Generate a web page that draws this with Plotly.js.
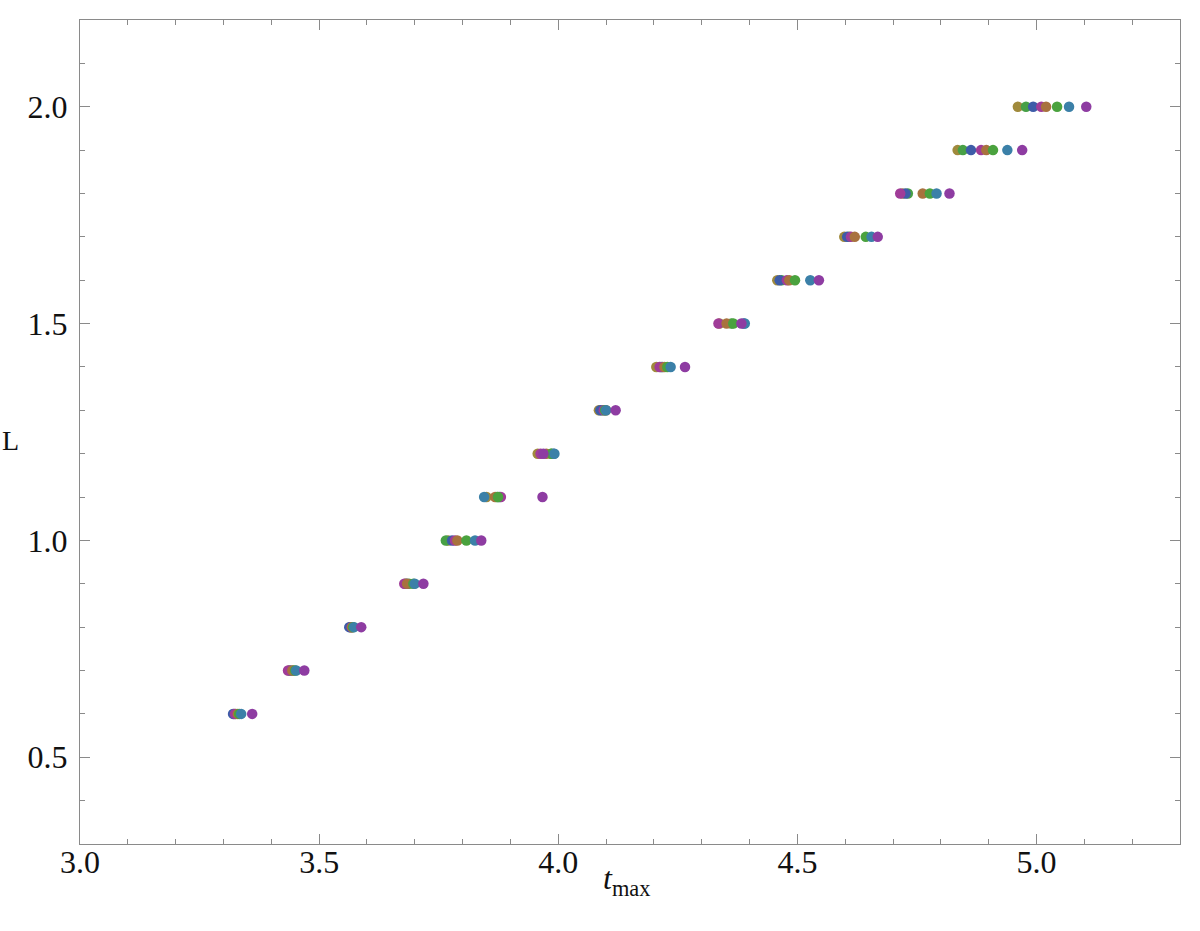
<!DOCTYPE html>
<html>
<head>
<meta charset="utf-8">
<script src="https://cdn.plot.ly/plotly-3.0.1.min.js"></script>
<style>html,body{margin:0;padding:0;background:#fff;}#chart{width:1200px;height:931px;}</style>
</head>
<body>
<div id="chart"></div>
<script>
// L values (rows)
const L = [0.6, 0.7, 0.8, 0.9, 1.0, 1.1, 1.2, 1.3, 1.4, 1.5, 1.6, 1.7, 1.8, 1.9, 2.0];

// t_max per series (one value per L)
const seriesNames = ["s1", "s2", "s3", "s4", "s5", "s6", "s7", "s8"];
const seriesColors = ["#A08A3C", "#47A046", "#3E5CA8", "#A03C98", "#A8723E", "#4AA23E", "#3B80A8", "#8E3CA2"];

const tOlive   = [3.322, 3.437, 3.565, 3.680, 3.770, 3.850, 3.957, 4.085, 4.205, 4.337, 4.458, 4.598, 4.720, 4.835, 4.961];
const tGreen   = [3.326, 3.446, 3.567, 3.688, 3.765, 3.872, 3.985, 4.092, 4.215, 4.362, 4.467, 4.608, 4.731, 4.846, 4.978];
const tBlue    = [3.320, 3.440, 3.563, 3.683, 3.778, 3.877, 3.990, 4.088, 4.218, 4.388, 4.463, 4.604, 4.726, 4.863, 4.993];
const tMagenta = [3.324, 3.435, 3.568, 3.678, 3.784, 3.880, 3.963, 4.095, 4.212, 4.335, 4.478, 4.612, 4.715, 4.884, 5.010];
const tBrown   = [3.330, 3.444, 3.569, 3.684, 3.789, 3.868, 3.975, 4.100, 4.222, 4.352, 4.483, 4.620, 4.762, 4.895, 5.020];
const tGreen2  = [3.333, 3.450, 3.571, 3.697, 3.808, 3.874, 3.986, 4.098, 4.228, 4.366, 4.495, 4.643, 4.777, 4.909, 5.043];
const tTeal    = [3.337, 3.452, 3.573, 3.700, 3.826, 3.845, 3.992, 4.100, 4.235, 4.390, 4.527, 4.655, 4.791, 4.939, 5.068];
const tPurple  = [3.360, 3.469, 3.588, 3.718, 3.839, 3.967, 3.969, 4.120, 4.265, 4.383, 4.545, 4.668, 4.818, 4.970, 5.104];

const seriesValues = [tOlive, tGreen, tBlue, tMagenta, tBrown, tGreen2, tTeal, tPurple];

const xTickVals = [3.0, 3.5, 4.0, 4.5, 5.0];
const xTickText = ["3.0", "3.5", "4.0", "4.5", "5.0"];
const yTickVals = [0.5, 1.0, 1.5, 2.0];
const yTickText = ["0.5", "1.0", "1.5", "2.0"];

const FONT = "Liberation Serif";

const traces = seriesValues.map((vals, i) => ({
  type: "scatter",
  mode: "markers",
  name: seriesNames[i],
  x: vals,
  y: L,
  marker: {color: seriesColors[i], size: 10.5, line: {width: 0}},
  cliponaxis: false,
  showlegend: false
}));

const axisCommon = {
  showgrid: false,
  zeroline: false,
  showline: true,
  linecolor: "#8a8a8a",
  linewidth: 1,
  mirror: "allticks",
  ticks: "inside",
  ticklen: 10,
  tickwidth: 1,
  tickcolor: "#8a8a8a",
  tickfont: {family: FONT, size: 32, color: "#111"},
  minor: {ticks: "inside", ticklen: 5, tickwidth: 1, tickcolor: "#8a8a8a", dtick: 0.1, showgrid: false}
};

const layout = {
  width: 1200,
  height: 931,
  paper_bgcolor: "#ffffff",
  plot_bgcolor: "#ffffff",
  font: {family: FONT},
  margin: {l: 80, r: 20, t: 20, b: 87},
  xaxis: Object.assign({}, axisCommon, {
    range: [3.0, 5.3],
    tickmode: "array",
    tickvals: xTickVals,
    ticktext: xTickText,
    ticklabelstandoff: -10
  }),
  yaxis: Object.assign({}, axisCommon, {
    range: [0.3, 2.2],
    tickmode: "array",
    tickvals: yTickVals,
    ticktext: yTickText,
    ticklabelstandoff: 5
  }),
  annotations: [
    {
      xref: "paper", yref: "paper", x: 0, y: 0.49, xshift: -80,
      xanchor: "left", yanchor: "middle", showarrow: false,
      text: "L",
      font: {family: FONT, size: 28, color: "#111"}
    },
    {
      xref: "paper", yref: "paper", x: 0.497, y: 0, yshift: -14,
      xanchor: "center", yanchor: "top", showarrow: false,
      text: "<i>t</i><sub>max</sub>",
      font: {family: FONT, size: 32, color: "#111"}
    }
  ]
};

Plotly.newPlot("chart", traces, layout, {displayModeBar: false, staticPlot: true});
</script>
</body>
</html>
